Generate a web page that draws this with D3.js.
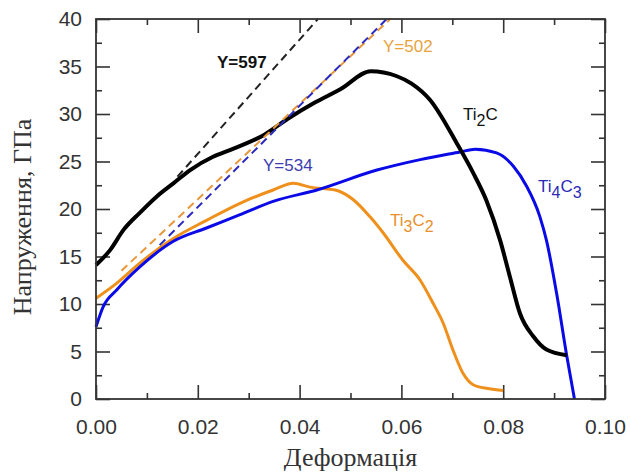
<!DOCTYPE html>
<html>
<head>
<meta charset="utf-8">
<script src="https://cdn.jsdelivr.net/npm/d3@7"></script>
<style>
  body { margin: 0; background: #fff; }
  svg { display: block; }
  .tick text { font-family: "Liberation Sans", Arial, sans-serif; font-size: 21px; fill: #333; }
  .lbl { font-family: "Liberation Sans", Arial, sans-serif; font-size: 17px; }
  .title { font-family: "Liberation Serif", "Times New Roman", serif; font-size: 26px; fill: #333; }
</style>
</head>
<body>
<div id="chart"></div>
<script>
// Ti2C (black)
let ti2cStrain = [0, 0.0028, 0.0054, 0.0086, 0.0119, 0.0152, 0.0185, 0.023, 0.0263, 0.033, 0.038, 0.043, 0.048, 0.054, 0.059, 0.062, 0.0656, 0.0709, 0.0741, 0.0767, 0.0794, 0.0813, 0.0833, 0.0859, 0.0885, 0.0925];
let ti2cStress = [14.1, 15.7, 17.8, 19.6, 21.3, 22.7, 24.1, 25.5, 26.2, 27.8, 29.6, 31.2, 32.6, 34.5, 34.0, 33.2, 31.5, 26.9, 23.8, 20.9, 16.7, 12.9, 9.0, 6.6, 5.2, 4.6];

// Ti3C2 (orange)
let ti3c2Strain = [0, 0.0041, 0.0086, 0.0152, 0.0217, 0.0283, 0.0348, 0.0388, 0.042, 0.047, 0.0505, 0.0538, 0.0564, 0.0603, 0.0637, 0.0662, 0.0682, 0.0701, 0.0721, 0.0741, 0.077, 0.080];
let ti3c2Stress = [10.6, 12.2, 14.3, 16.9, 18.8, 20.6, 22.0, 22.7, 22.3, 22.0, 21.0, 19.2, 17.5, 14.6, 12.5, 10.1, 8.0, 5.2, 2.7, 1.5, 1.1, 0.9];

// Ti4C3 (blue)
let ti4c3Strain = [0, 0.0014, 0.0041, 0.0086, 0.0152, 0.0217, 0.0283, 0.0348, 0.0434, 0.0552, 0.0637, 0.0715, 0.0745, 0.0787, 0.082, 0.0846, 0.0872, 0.0885, 0.0905, 0.0925, 0.094];
let ti4c3Stress = [7.6, 9.7, 11.5, 13.9, 16.6, 18.0, 19.4, 20.8, 22.0, 24.1, 25.2, 26.0, 26.3, 25.9, 24.5, 22.4, 19.2, 16.7, 11.1, 4.5, 0];

// linear fits, [start, end] strain and stress
let fitNames = ["Y=597", "Y=502", "Y=534"];
let fitStrain = [[0.016, 0.0436], [0.005, 0.0578], [0.0125, 0.0571]];
let fitStress = [[23.4, 40], [13.5, 40], [16.2, 40]];

let xTicks = [0, 0.02, 0.04, 0.06, 0.08, 0.10];
let yTicks = [0, 5, 10, 15, 20, 25, 30, 35, 40];

let width = 630, height = 472;
let mLeft = 96, mRight = 605, mTop = 19, mBottom = 399;

let svg = d3.select("#chart").append("svg")
    .attr("width", width)
    .attr("height", height);

let x = d3.scaleLinear().domain([0, 0.1]).range([mLeft, mRight]);
let y = d3.scaleLinear().domain([0, 40]).range([mBottom, mTop]);

// ticks, inward on all four sides
let minorX = d3.range(0.01, 0.1, 0.02);
let minorY = d3.range(2.5, 40, 5);

function tickAxis(axis, g) {
  g.call(axis);
  g.select(".domain").remove();
  g.selectAll(".tick line").attr("stroke", "#333").attr("stroke-width", 1.6);
}

tickAxis(d3.axisBottom(x).tickValues(xTicks).tickSize(-14).tickPadding(20).tickFormat(d3.format(".2f")),
  svg.append("g").attr("transform", "translate(0," + mBottom + ")"));
tickAxis(d3.axisBottom(x).tickValues(minorX).tickSize(-6).tickFormat(""),
  svg.append("g").attr("transform", "translate(0," + mBottom + ")"));
tickAxis(d3.axisTop(x).tickValues(xTicks).tickSize(-14).tickFormat(""),
  svg.append("g").attr("transform", "translate(0," + mTop + ")"));
tickAxis(d3.axisTop(x).tickValues(minorX).tickSize(-6).tickFormat(""),
  svg.append("g").attr("transform", "translate(0," + mTop + ")"));
tickAxis(d3.axisLeft(y).tickValues(yTicks).tickSize(-14).tickPadding(14).tickFormat(d3.format("d")),
  svg.append("g").attr("transform", "translate(" + mLeft + ",0)"));
tickAxis(d3.axisLeft(y).tickValues(minorY).tickSize(-6).tickFormat(""),
  svg.append("g").attr("transform", "translate(" + mLeft + ",0)"));
tickAxis(d3.axisRight(y).tickValues(yTicks).tickSize(-14).tickFormat(""),
  svg.append("g").attr("transform", "translate(" + mRight + ",0)"));
tickAxis(d3.axisRight(y).tickValues(minorY).tickSize(-6).tickFormat(""),
  svg.append("g").attr("transform", "translate(" + mRight + ",0)"));

svg.selectAll(".tick text").attr("font-family", null).attr("font-size", null).attr("fill", null);

// curves
let line = d3.line()
    .x(function(d) { return x(d[0]); })
    .y(function(d) { return y(d[1]); })
    .curve(d3.curveMonotoneX);

let series = [
  { sx: ti3c2Strain, sy: ti3c2Stress, color: "#f0901c", w: 3 },
  { sx: ti4c3Strain, sy: ti4c3Stress, color: "#0a0ae6", w: 3 },
  { sx: ti2cStrain, sy: ti2cStress, color: "#000", w: 4 }
];

series.forEach(function(s) {
  svg.append("path")
      .datum(d3.zip(s.sx, s.sy))
      .attr("fill", "none")
      .attr("stroke", s.color)
      .attr("stroke-width", s.w)
      .attr("stroke-linejoin", "round")
      .attr("d", line);
});

// dashed fit lines
let fitColors = ["#222", "#e8963a", "#2a2ac0"];
fitStrain.forEach(function(fs, i) {
  svg.append("path")
      .datum(d3.zip(fs, fitStress[i]))
      .attr("fill", "none")
      .attr("stroke", fitColors[i])
      .attr("stroke-width", 2)
      .attr("stroke-dasharray", "8,5")
      .attr("d", d3.line().x(function(d) { return x(d[0]); }).y(function(d) { return y(d[1]); }));
});

// frame
svg.append("rect")
    .attr("x", mLeft).attr("y", mTop)
    .attr("width", mRight - mLeft).attr("height", mBottom - mTop)
    .attr("fill", "none")
    .attr("stroke", "#333")
    .attr("stroke-width", 1.8);

// labels
svg.append("text").attr("class", "lbl").attr("x", 217).attr("y", 68)
    .attr("font-weight", "bold").attr("fill", "#111").text(fitNames[0]);
svg.append("text").attr("class", "lbl").attr("x", 383).attr("y", 52)
    .attr("fill", "#e8a33d").text(fitNames[1]);
svg.append("text").attr("class", "lbl").attr("x", 263).attr("y", 171)
    .attr("fill", "#3c3cb0").text(fitNames[2]);

function formula(px, py, color, parts) {
  let t = svg.append("text").attr("class", "lbl").attr("x", px).attr("y", py).attr("fill", color);
  parts.forEach(function(p) {
    let ts = t.append("tspan").text(p[0]);
    if (p[1] == "sub") ts.attr("dy", 6).attr("font-size", 16);
    if (p[1] == "up") ts.attr("dy", -6);
  });
}
formula(463, 120, "#111", [["Ti"], ["2", "sub"], ["C", "up"]]);
formula(538, 192, "#2a2ab8", [["Ti"], ["4", "sub"], ["C", "up"], ["3", "sub"]]);
formula(390, 226, "#e8902a", [["Ti"], ["3", "sub"], ["C", "up"], ["2", "sub"]]);

// axis titles
svg.append("text").attr("class", "title")
    .attr("x", (mLeft + mRight) / 2).attr("y", 466)
    .attr("text-anchor", "middle")
    .text("Деформація");
svg.append("text").attr("class", "title")
    .attr("transform", "translate(31," + 217 + ") rotate(-90)")
    .attr("text-anchor", "middle")
    .text("Напруження, ГПа");
</script>
</body>
</html>
